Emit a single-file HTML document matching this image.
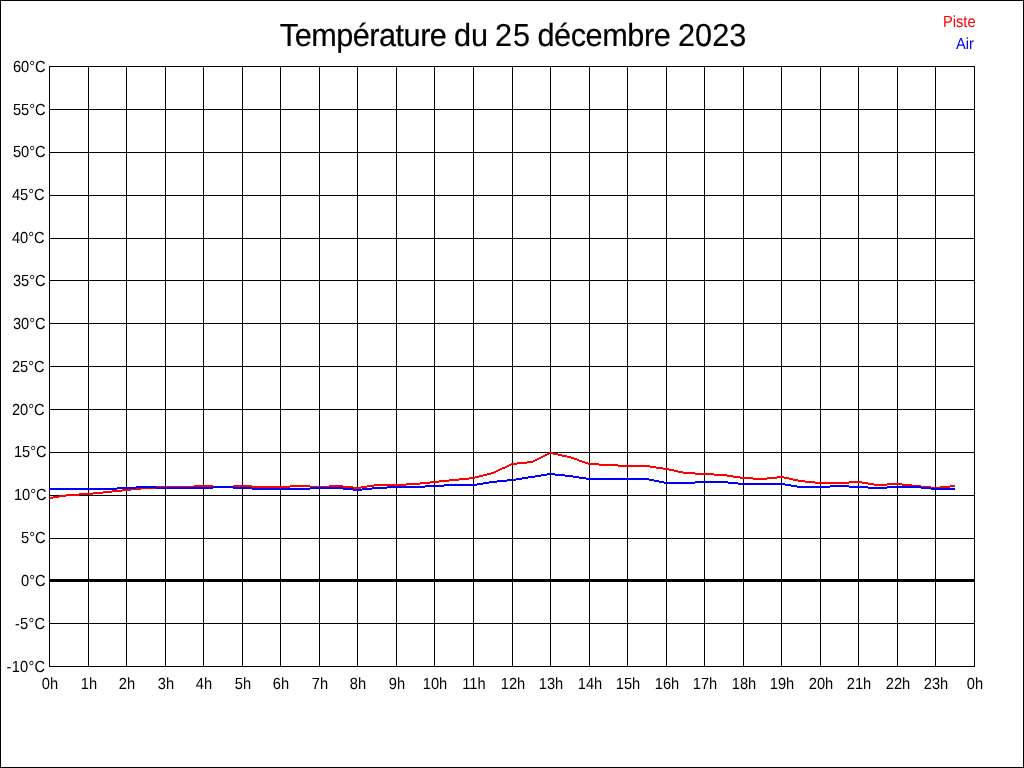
<!DOCTYPE html>
<html><head><meta charset="utf-8"><title>Température du 25 décembre 2023</title>
<style>
html,body{margin:0;padding:0;background:#fff;}
body{width:1024px;height:768px;overflow:hidden;position:relative;font-family:"Liberation Sans",sans-serif;color:#000;}
#frame{position:absolute;left:0;top:0;width:1022px;height:766px;border:1px solid #000;}
svg{position:absolute;left:0;top:0;}
.t{position:absolute;white-space:nowrap;line-height:1;will-change:transform;}
.tw{top:21px;font-size:30.67px;-webkit-text-stroke:0.2px #000;text-rendering:geometricPrecision;transform:scaleY(1.04);transform-origin:50% 50%;}
.yl{font-size:14.67px;text-align:right;width:60px;left:-14px;}
.xl{font-size:14.67px;text-align:center;width:40px;}
.lg{font-size:14.67px;}
.yl,.xl,.lg{text-rendering:geometricPrecision;transform:scaleY(1.10);transform-origin:50% 50%;}
.yl{transform:translateX(-0.3px) scaleY(1.10);}
.yl.ng{letter-spacing:0.25px;transform:translateX(-0.6px) scaleY(1.10);}
</style></head><body>
<div id="frame"></div>

<svg width="1024" height="768" viewBox="0 0 1024 768" shape-rendering="crispEdges">
<path fill="#000" d="M49 66h1v601h-1zM88 66h1v601h-1zM126 66h1v601h-1zM165 66h1v601h-1zM203 66h1v601h-1zM242 66h1v601h-1zM280 66h1v601h-1zM319 66h1v601h-1zM357 66h1v601h-1zM396 66h1v601h-1zM434 66h1v601h-1zM473 66h1v601h-1zM512 66h1v601h-1zM550 66h1v601h-1zM589 66h1v601h-1zM627 66h1v601h-1zM666 66h1v601h-1zM704 66h1v601h-1zM743 66h1v601h-1zM781 66h1v601h-1zM820 66h1v601h-1zM858 66h1v601h-1zM897 66h1v601h-1zM935 66h1v601h-1zM974 66h1v601h-1zM49 66h926v1h-926zM49 109h926v1h-926zM49 152h926v1h-926zM49 195h926v1h-926zM49 238h926v1h-926zM49 280h926v1h-926zM49 323h926v1h-926zM49 366h926v1h-926zM49 409h926v1h-926zM49 452h926v1h-926zM49 495h926v1h-926zM49 538h926v1h-926zM49 580h926v1h-926zM49 623h926v1h-926zM49 666h926v1h-926zM49 579h926v3h-926z"/>
<path fill="#f00" d="M49 497h4v2h-4zM53 496h6v2h-6zM59 495h7v2h-7zM66 494h13v2h-13zM79 493h14v2h-14zM93 492h10v2h-10zM103 491h9v2h-9zM112 490h10v2h-10zM122 489h9v2h-9zM131 488h10v2h-10zM141 487h15v2h-15zM156 486h38v2h-38zM194 485h19v2h-19zM213 486h20v2h-20zM233 485h19v2h-19zM252 486h38v2h-38zM290 485h20v2h-20zM310 486h19v2h-19zM329 485h14v2h-14zM343 486h10v2h-10zM353 487h8v2h-8zM361 486h6v2h-6zM367 485h7v2h-7zM374 484h32v2h-32zM406 483h14v2h-14zM420 482h10v2h-10zM430 481h9v2h-9zM439 480h10v2h-10zM449 479h10v2h-10zM459 478h10v2h-10zM469 477h6v2h-6zM475 476h4v2h-4zM479 475h4v2h-4zM483 474h4v2h-4zM487 473h4v2h-4zM491 472h3v2h-3zM494 471h2v2h-2zM496 470h2v2h-2zM498 469h2v2h-2zM500 468h2v2h-2zM502 467h3v2h-3zM505 466h2v2h-2zM507 465h2v2h-2zM509 464h2v2h-2zM511 463h6v2h-6zM517 462h10v2h-10zM527 461h6v2h-6zM533 460h2v2h-2zM535 459h2v2h-2zM537 458h2v2h-2zM539 457h2v2h-2zM541 456h2v2h-2zM543 455h2v2h-2zM545 454h2v2h-2zM547 453h2v2h-2zM549 452h4v2h-4zM553 453h5v2h-5zM558 454h4v2h-4zM562 455h5v2h-5zM567 456h4v2h-4zM571 457h3v2h-3zM574 458h3v2h-3zM577 459h2v2h-2zM579 460h3v2h-3zM582 461h3v2h-3zM585 462h3v2h-3zM588 463h11v2h-11zM599 464h19v2h-19zM618 465h32v2h-32zM650 466h6v2h-6zM656 467h7v2h-7zM663 468h6v2h-6zM669 469h5v2h-5zM674 470h4v2h-4zM678 471h5v2h-5zM683 472h12v2h-12zM695 473h19v2h-19zM714 474h13v2h-13zM727 475h6v2h-6zM733 476h7v2h-7zM740 477h13v2h-13zM753 478h14v2h-14zM767 477h10v2h-10zM777 476h7v2h-7zM784 477h5v2h-5zM789 478h4v2h-4zM793 479h5v2h-5zM798 480h7v2h-7zM805 481h10v2h-10zM815 482h34v2h-34zM849 481h13v2h-13zM862 482h6v2h-6zM868 483h6v2h-6zM874 484h13v2h-13zM887 483h15v2h-15zM902 484h10v2h-10zM912 485h9v2h-9zM921 486h10v2h-10zM931 487h9v2h-9zM940 486h10v2h-10zM950 485h5v2h-5z"/>
<path fill="#00f" d="M49 488h68v2h-68zM117 487h19v2h-19zM136 486h20v2h-20zM156 487h57v2h-57zM213 486h20v2h-20zM233 487h19v2h-19zM252 488h58v2h-58zM310 487h33v2h-33zM343 488h10v2h-10zM353 489h9v2h-9zM362 488h10v2h-10zM372 487h15v2h-15zM387 486h38v2h-38zM425 485h19v2h-19zM444 484h33v2h-33zM477 483h6v2h-6zM483 482h6v2h-6zM489 481h8v2h-8zM497 480h10v2h-10zM507 479h9v2h-9zM516 478h6v2h-6zM522 477h6v2h-6zM528 476h7v2h-7zM535 475h6v2h-6zM541 474h6v2h-6zM547 473h8v2h-8zM555 474h10v2h-10zM565 475h8v2h-8zM573 476h6v2h-6zM579 477h7v2h-7zM586 478h63v2h-63zM649 479h5v2h-5zM654 480h5v2h-5zM659 481h5v2h-5zM664 482h31v2h-31zM695 481h33v2h-33zM728 482h10v2h-10zM738 483h47v2h-47zM785 484h6v2h-6zM791 485h6v2h-6zM797 486h33v2h-33zM830 485h19v2h-19zM849 486h19v2h-19zM868 487h19v2h-19zM887 486h34v2h-34zM921 487h10v2h-10zM931 488h24v2h-24z"/>
</svg>
<div class="t tw" style="left:279px;letter-spacing:-0.5px;transform:translateX(0.8px) scaleY(1.04)">Température</div>
<div class="t tw" style="left:454px;letter-spacing:0px;transform:translateX(0px) scaleY(1.04)">du</div>
<div class="t tw" style="left:495px;letter-spacing:1px;transform:translateX(0px) scaleY(1.04)">25</div>
<div class="t tw" style="left:537px;letter-spacing:-0.43px;transform:translateX(0.4px) scaleY(1.04)">décembre</div>
<div class="t tw" style="left:677px;letter-spacing:0.1px;transform:translateX(0.9px) scaleY(1.04)">2023</div>
<div class="t yl" style="top:61.33px">60°C</div>
<div class="t yl" style="top:104.33px">55°C</div>
<div class="t yl" style="top:146.33px">50°C</div>
<div class="t yl" style="top:189.33px;left:-15px">45°C</div>
<div class="t yl" style="top:232.33px;left:-15px">40°C</div>
<div class="t yl" style="top:275.33px">35°C</div>
<div class="t yl" style="top:318.33px">30°C</div>
<div class="t yl" style="top:361.33px;left:-15px">25°C</div>
<div class="t yl" style="top:404.33px;left:-15px">20°C</div>
<div class="t yl" style="top:446.33px;left:-13px">15°C</div>
<div class="t yl" style="top:489.33px;left:-13px">10°C</div>
<div class="t yl" style="top:532.33px">5°C</div>
<div class="t yl" style="top:575.33px">0°C</div>
<div class="t yl ng" style="top:618.33px">-5°C</div>
<div class="t yl ng" style="top:661.33px">-10°C</div>
<div class="t xl" style="left:30px;top:678px">0h</div>
<div class="t xl" style="left:69px;top:678px">1h</div>
<div class="t xl" style="left:107px;top:678px">2h</div>
<div class="t xl" style="left:146px;top:678px">3h</div>
<div class="t xl" style="left:184px;top:678px">4h</div>
<div class="t xl" style="left:223px;top:678px">5h</div>
<div class="t xl" style="left:261px;top:678px">6h</div>
<div class="t xl" style="left:300px;top:678px">7h</div>
<div class="t xl" style="left:338px;top:678px">8h</div>
<div class="t xl" style="left:377px;top:678px">9h</div>
<div class="t xl" style="left:415px;top:678px">10h</div>
<div class="t xl" style="left:454px;top:678px">11h</div>
<div class="t xl" style="left:493px;top:678px">12h</div>
<div class="t xl" style="left:531px;top:678px">13h</div>
<div class="t xl" style="left:570px;top:678px">14h</div>
<div class="t xl" style="left:608px;top:678px">15h</div>
<div class="t xl" style="left:647px;top:678px">16h</div>
<div class="t xl" style="left:685px;top:678px">17h</div>
<div class="t xl" style="left:724px;top:678px">18h</div>
<div class="t xl" style="left:762px;top:678px">19h</div>
<div class="t xl" style="left:801px;top:678px">20h</div>
<div class="t xl" style="left:839px;top:678px">21h</div>
<div class="t xl" style="left:878px;top:678px">22h</div>
<div class="t xl" style="left:916px;top:678px">23h</div>
<div class="t xl" style="left:955px;top:678px">0h</div>
<div class="t lg" style="color:#f00;left:942.5px;top:16px">Piste</div>
<div class="t lg" style="color:#00f;left:955.8px;top:38px">Air</div>
</body></html>
